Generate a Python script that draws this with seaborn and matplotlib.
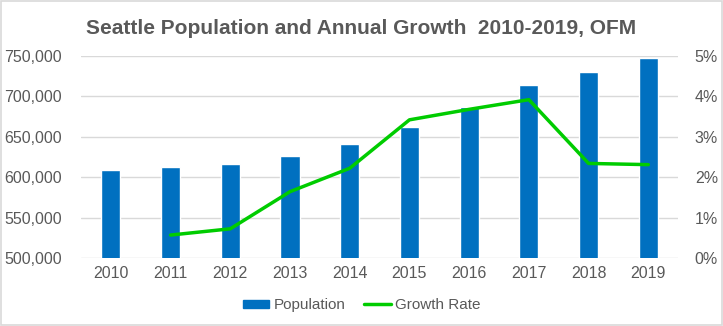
import matplotlib
matplotlib.use("Agg")
import matplotlib.pyplot as plt
from matplotlib.ticker import FuncFormatter
from matplotlib.patches import Patch
from matplotlib.lines import Line2D
import seaborn as sns
import pandas as pd

years = ["2010", "2011", "2012", "2013", "2014", "2015", "2016", "2017", "2018", "2019"]
population = [608660, 612100, 616500, 626600, 640500, 662400, 686800, 713700, 730400, 747300]
growth_rate = [None, 0.565, 0.72, 1.64, 2.22, 3.42, 3.68, 3.92, 2.34, 2.31]

sns.set_theme(style="white")
plt.rcParams['font.family'] = ['Liberation Sans', 'DejaVu Sans']

TXT = "#595959"
GRID = "#D9D9D9"
BAR = "#0070C0"
LINE = "#00CC00"

df = pd.DataFrame({"year": years, "population": population, "growth": growth_rate})

fig = plt.figure(figsize=(7.23, 3.26), dpi=100)
ax = fig.add_axes([0.112, 0.209, 0.826, 0.619])

sns.barplot(data=df, x="year", y="population", color=BAR, width=0.32,
            saturation=1, ax=ax, zorder=3)
ax.set_ylim(500000, 750000)
ax.set_yticks([500000, 550000, 600000, 650000, 700000, 750000])
ax.yaxis.set_major_formatter(FuncFormatter(lambda v, p: f"{int(v):,}"))
ax.grid(axis="y", color=GRID, linewidth=1, zorder=0)
ax.set_axisbelow(True)
ax.set_xlim(-0.5, 9.5)
ax.set_xlabel("")
ax.set_ylabel("")
for s in ax.spines.values():
    s.set_visible(False)
ax.tick_params(axis="both", length=0, colors=TXT, labelsize=11.5)
ax.tick_params(axis="y", pad=14)
ax.tick_params(axis="x", pad=6)

ax2 = ax.twinx()
gdf = df.dropna()
sns.lineplot(x=[years.index(y) for y in gdf["year"]], y=gdf["growth"], color=LINE,
             linewidth=2.5, ax=ax2, zorder=4)
ax2.set_ylim(0, 5)
ax2.set_yticks([0, 1, 2, 3, 4, 5])
ax2.yaxis.set_major_formatter(FuncFormatter(lambda v, p: f"{int(v)}%"))
ax2.set_ylabel("")
for s in ax2.spines.values():
    s.set_visible(False)
ax2.tick_params(axis="y", length=0, colors=TXT, labelsize=11.5, pad=12)
ax2.grid(False)

fig.text(0.5, 0.913, "Seattle Population and Annual Growth  2010-2019, OFM",
         ha="center", va="center", fontsize=15, fontweight="bold", color=TXT)

handles = [Patch(facecolor=BAR, edgecolor=BAR), Line2D([0], [0], color=LINE, linewidth=2.5)]
fig.legend(handles, ["Population", "Growth Rate"], loc="center", bbox_to_anchor=(0.5, 0.064),
           ncol=2, frameon=False, fontsize=11, labelcolor=TXT, handlelength=1.75,
           handleheight=0.46, columnspacing=1.25, handletextpad=0.25)

border = plt.Rectangle((0.001, 0.002), 0.997, 0.995, transform=fig.transFigure, fill=False,
                       edgecolor="#D9D9D9", linewidth=1.2)
fig.patches.append(border)

fig.savefig("out.png", dpi=100)
